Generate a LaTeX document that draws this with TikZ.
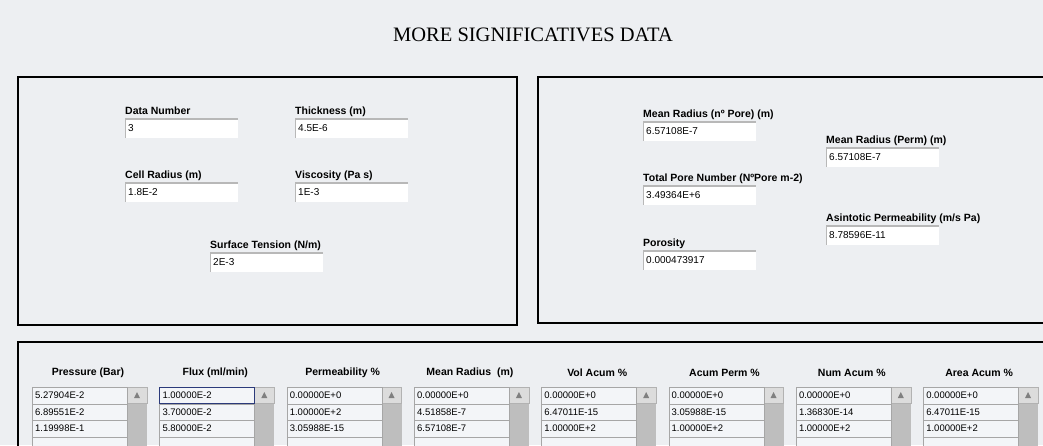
\documentclass[tikz,border=0pt]{standalone}
\usepackage{fontspec}
\setmainfont{Liberation Serif}
\newfontfamily\guifont{Liberation Sans}
\usetikzlibrary{positioning,calc}
\definecolor{panelbg}{HTML}{EDEFF2}
\definecolor{bevel}{HTML}{B8B8B8}
\definecolor{cellfill}{HTML}{F3F5F8}
\definecolor{scrolltrack}{HTML}{BEBEBE}
\definecolor{scrollbtn}{HTML}{DCDCDC}
\definecolor{focusblue}{HTML}{2B3A7A}

\tikzset{
  panel/.style={draw=black, line width=2.4pt},
  lbl/.style={font=\guifont\bfseries\fontsize{10.5}{12}\selectfont, inner sep=0pt, anchor=base west},
  hdr/.style={font=\guifont\bfseries\fontsize{10.5}{12}\selectfont, inner sep=0pt},
  field/.style={fill=white, anchor=north west, minimum height=20pt, text width=107pt,
    inner xsep=3pt, inner ysep=0pt, align=left, font=\guifont\fontsize{10}{12}\selectfont,
    path picture={
      \draw[bevel, line width=3pt] (path picture bounding box.north west) -- (path picture bounding box.north east);
      \draw[bevel, line width=1pt] (path picture bounding box.north west) -- (path picture bounding box.south west);}},
  cell/.style={draw=gray!70, fill=cellfill, anchor=north west, minimum height=16.5pt, text width=89pt,
    inner xsep=3pt, inner ysep=0pt, align=left, font=\guifont\fontsize{9.5}{11}\selectfont}
}

\begin{document}
\begin{tikzpicture}[x=1pt,y=-1pt]
	\clip (0,0) rectangle (1043,445);
	\fill[panelbg] (0,0) rectangle (1043,445);
	\useasboundingbox (0,0) rectangle (1043,445);
	%
	\node[font=\fontsize{20.5}{24}\selectfont, inner sep=0pt] (title) at (533,35) {MORE SIGNIFICATIVES DATA};
	%
	\draw[panel] (18,77) rectangle (517,325);
	\draw[panel] (538,77) rectangle (1060,323);
	\draw[panel] (18,342) rectangle (1060,470);
	%
	\node[field] (dataNum) at (125,118) {3};
	\node[field] (thick) at (295,118) {4.5E-6};
	\node[field] (cellRad) at (125,182) {1.8E-2};
	\node[field] (visc) at (295,182) {1E-3};
	\node[field] (surfTen) at (210,252) {2E-3};
	\node[lbl] (dataNumLbl) at ($(dataNum.north west)+(0,-4)$) {Data Number};
	\node[lbl] (thickLbl) at ($(thick.north west)+(0,-4)$) {Thickness (m)};
	\node[lbl] (cellRadLbl) at ($(cellRad.north west)+(0,-4)$) {Cell Radius (m)};
	\node[lbl] (viscLbl) at ($(visc.north west)+(0,-4)$) {Viscosity (Pa s)};
	\node[lbl] (surfTenLbl) at ($(surfTen.north west)+(0,-4)$) {Surface Tension (N/m)};
	%
	\node[field] (mrPore) at (643,121) {6.57108E-7};
	\node[field] (mrPerm) at (826,147) {6.57108E-7};
	\node[field] (poreNum) at (643,185) {3.49364E+6};
	\node[field] (asintPerm) at (826,225) {8.78596E-11};
	\node[field] (porosity) at (643,250) {0.000473917};
	\node[lbl] (mrPoreLbl) at ($(mrPore.north west)+(0,-4)$) {Mean Radius (nº Pore) (m)};
	\node[lbl] (mrPermLbl) at ($(mrPerm.north west)+(0,-4)$) {Mean Radius (Perm) (m)};
	\node[lbl] (poreNumLbl) at ($(poreNum.north west)+(0,-4)$) {Total Pore Number (NºPore m-2)};
	\node[lbl] (asintPermLbl) at ($(asintPerm.north west)+(0,-4)$) {Asintotic Permeability (m/s Pa)};
	\node[lbl] (porosityLbl) at ($(porosity.north west)+(0,-4)$) {Porosity};
	%
	\foreach \i/\head/\va/\vb/\vc [evaluate=\i as \xo using 32+127.3*\i] in {
		0/Pressure (Bar)/5.27904E-2/6.89551E-2/1.19998E-1,
		1/{Flux (ml/min)}/1.00000E-2/3.70000E-2/5.80000E-2,
		2/Permeability \%/0.00000E+0/1.00000E+2/3.05988E-15,
		3/Mean Radius\ \ (m)/0.00000E+0/4.51858E-7/6.57108E-7,
		4/Vol Acum \%/0.00000E+0/6.47011E-15/1.00000E+2,
		5/Acum Perm \%/0.00000E+0/3.05988E-15/1.00000E+2,
		6/Num Acum \%/0.00000E+0/1.36830E-14/1.00000E+2,
		7/Area Acum \%/0.00000E+0/6.47011E-15/1.00000E+2}
	{
		\node[hdr] (hd\i) at (\xo+56,373) {\head};
		\fill[scrolltrack] (\xo+95,387) rectangle (\xo+115,460);
		\draw[fill=scrollbtn, draw=gray!60] (\xo+95,387) rectangle (\xo+115,403);
		\fill[gray] (\xo+102,398) -- (\xo+108,398) -- (\xo+105,392) -- cycle;
		\foreach \r/\v in {1/\va, 2/\vb, 3/\vc, 4/{}}
			\node[cell] (cell\i-\r) at (\xo,370.5+16.5*\r) {\v};
	}
	\draw[focusblue, line width=1pt] (cell1-1.north west) rectangle (cell1-1.south east);
\end{tikzpicture}
\end{document}
